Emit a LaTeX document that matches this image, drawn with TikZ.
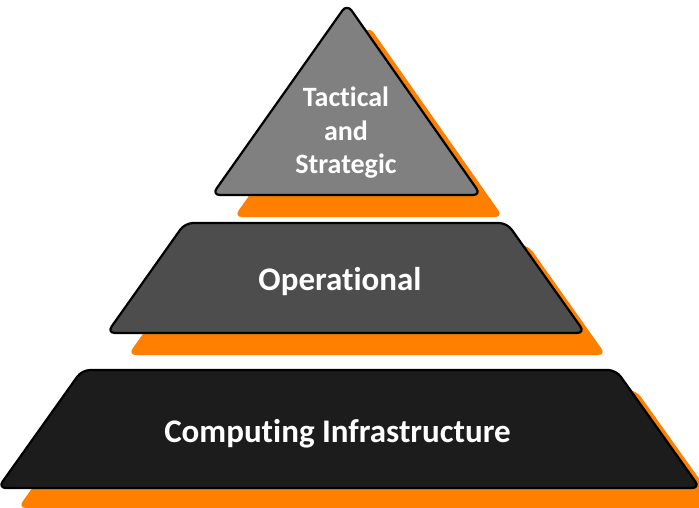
\documentclass[tikz,border=0pt]{standalone}
\usepackage{fontspec}
\setmainfont{Carlito}[Ligatures=NoCommon]
\begin{document}
\begin{tikzpicture}[x=1pt,y=-1pt,
  shadowshape/.style={fill=shadoworange, draw=none, rounded corners=8pt},
  levelshape/.style={draw=black, line width=2.2pt, rounded corners=8pt, line join=round},
  leveltext/.style={text=white, font=\bfseries, inner sep=0pt}]
\definecolor{shadoworange}{HTML}{FF8000}
\definecolor{topgray}{HTML}{808080}
\definecolor{midgray}{HTML}{4D4D4D}
\definecolor{basegray}{HTML}{1C1C1C}
\useasboundingbox (0,0) rectangle (699,508);
\begin{scope}
\clip (0,0) rectangle (699,508);
% base level
\fill[shadowshape] (102,390) -- (636,390) -- (720,508) -- (18,508) -- cycle;
\draw[levelshape, fill=basegray] (82,370) -- (616,370) -- (700,488) -- (-2,488) -- cycle;
% middle level
\fill[shadowshape] (206,245) -- (528,245) -- (606,355) -- (128,355) -- cycle;
\draw[levelshape, fill=midgray] (185,223) -- (507,223) -- (585,333) -- (107,333) -- cycle;
% top level
\fill[shadowshape] (369,26) -- (503,217) -- (234,217) -- cycle;
\draw[levelshape, fill=topgray] (347,4) -- (481,195) -- (212,195) -- cycle;
\end{scope}
\node[leveltext, font=\bfseries\fontsize{28}{33.5}\selectfont, align=center, anchor=center] (tac) at (346,133) {Tactical\\and\\Strategic};
\node[leveltext, font=\bfseries\fontsize{33}{39}\selectfont, anchor=base] (op) at (340,290) {Operational};
\node[leveltext, font=\bfseries\fontsize{33}{39}\selectfont, anchor=base] (ci) at (337.5,442) {Computing Infrastructure};
\end{tikzpicture}
\end{document}
